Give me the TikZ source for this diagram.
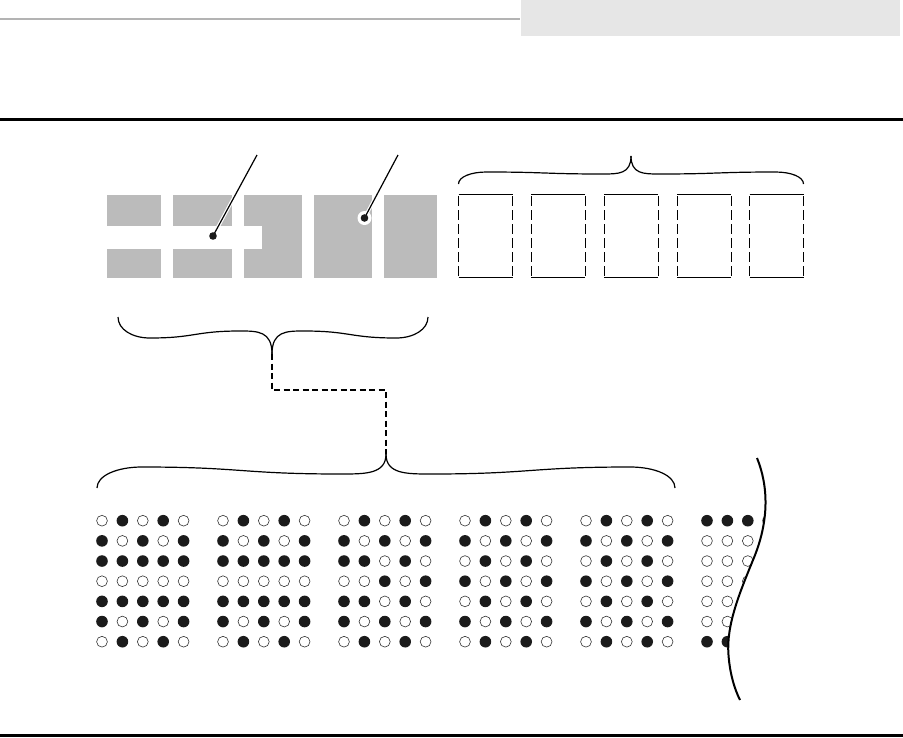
\documentclass[tikz,border=0pt]{standalone}
\usepackage{tikz}
\definecolor{gblock}{HTML}{BBBBBB}
\definecolor{ghead}{HTML}{E6E6E6}
\definecolor{gline}{HTML}{B3B3B3}
\definecolor{dotblack}{HTML}{1B1B1B}
\tikzset{
  blockstyle/.style={fill=gblock, draw=none},
  bracestyle/.style={line width=1.2pt, black},
  boxsolid/.style={line width=1.3pt, black},
  boxdash/.style={line width=0.9pt, black, dash pattern=on 9.5pt off 4.5pt},
  linkdash/.style={line width=1.4pt, black, dash pattern=on 6pt off 3.5pt},
  dotfull/.style={fill=dotblack},
  dotempty/.style={draw=black!80, line width=0.6pt, fill=white},
  pointer/.style={line width=1.2pt, black},
  halo/.style={line width=3.5pt, white},
}
% half brace: x0, xt, yend, ytip, ya (near end), yb (near tip), hook
\newcommand\halfbrc[7]{%
  \pgfmathsetmacro\hbL{#2-#1}%
  \pgfmathsetmacro\hbs{sign(\hbL)*#7}%
  \pgfmathsetmacro\hbBx{#1+\hbs}%
  \pgfmathsetmacro\hbCx{#2-\hbs}%
  \pgfmathsetmacro\hbM{(\hbBx+\hbCx)/2}%
  \pgfmathsetmacro\hbca{#1+0.45*\hbs}%
  \pgfmathsetmacro\hbcb{#2-0.45*\hbs}%
  \pgfmathsetmacro\hbya{#3+0.6*(#5-#3)}%
  \draw[bracestyle] (#1,#3) .. controls (#1,\hbya) and (\hbca,#5) .. (\hbBx,#5)
    .. controls (\hbM,#5) and (\hbM,#6) .. (\hbCx,#6)
    .. controls (\hbcb,#6) and (#2,#6) .. (#2,#4);%
}
\newcommand\dotgroup[2]{%
  \foreach \row [count=\r from 0] in {#2} {%
    \foreach \b [count=\c from 0] in \row {%
      \ifnum\b=1
        \fill[dotfull] (#1+\c*20.4, 520.7+\r*20.17) circle (5.8);
      \else
        \draw[dotempty] (#1+\c*20.4, 520.7+\r*20.17) circle (5.4);
      \fi
    }%
  }%
}
\begin{document}
\begin{tikzpicture}[x=1pt,y=-1pt]
\useasboundingbox (0,0) rectangle (903,737);
% header
\fill[ghead] (521,0) rectangle (900,36);
\draw[gline, line width=1.5pt] (0,19) -- (520,19);
\draw[black, line width=3pt] (0,119) -- (903,119);
\draw[black, line width=3pt] (0,735.5) -- (903,735.5);

% gray blocks
\fill[blockstyle] (107,195) rectangle (161,226);
\fill[blockstyle] (107,249) rectangle (161,278);
\fill[blockstyle] (173,195) rectangle (232,226);
\fill[blockstyle] (173,249) rectangle (232,278);
\fill[blockstyle] (244,195) rectangle (302,278);
\fill[white] (243,226) rectangle (262,249);
\fill[blockstyle] (314,195) rectangle (372,278);
\fill[blockstyle] (384,195) rectangle (437,278);

% pointers
\coordinate (pa) at (213,236);
\coordinate (pat) at (257,155);
\coordinate (pb) at (364.5,218);
\coordinate (pbt) at (398,155);
\draw[halo] (pa) -- (pat);
\draw[halo] (pb) -- (pbt);
\fill[white] (pb) circle (7);
\draw[pointer] (pa) -- (pat);
\draw[pointer] (pb) -- (pbt);
\fill[dotblack] (pa) circle (3.8);
\fill[dotblack] (pb) circle (3.8);

% dashed boxes
\foreach \x in {458.5,531,604,677,749.5} {
  \draw[boxsolid] (\x,194.5) -- (\x+54,194.5);
  \draw[boxsolid] (\x,277.5) -- (\x+54,277.5);
  \draw[boxdash] (\x,196) -- (\x,276.5);
  \draw[boxdash] (\x+54,196) -- (\x+54,276.5);
}

% braces
\coordinate (tipR) at (631,156);
\halfbrc{458.5}{631}{184}{156}{172}{174}{28}
\halfbrc{803.5}{631}{184}{156}{172}{174}{28}
\coordinate (tipA) at (272,354);
\halfbrc{118}{272}{317}{354}{338}{331}{32}
\halfbrc{428}{272}{317}{354}{338}{331}{32}
\coordinate (tipB) at (386,454);
\halfbrc{97}{386}{488}{454}{467}{474}{45}
\halfbrc{675}{386}{488}{454}{467}{474}{45}

% dashed link
\draw[linkdash] (tipA) -- ++(0,36) -| (tipB);

% dot matrices
\dotgroup{102}{{0,1,0,1,0},{1,0,1,0,1},{1,1,1,1,1},{0,0,0,0,0},{1,1,1,1,1},{1,0,1,0,1},{0,1,0,1,0}}
\dotgroup{223}{{0,1,0,1,0},{1,0,1,0,1},{1,1,1,1,1},{0,0,0,0,0},{1,1,1,1,1},{1,0,1,0,1},{0,1,0,1,0}}
\dotgroup{344}{{0,1,0,1,0},{1,0,1,0,1},{1,1,0,1,0},{0,0,1,0,1},{1,1,0,1,0},{1,0,1,0,1},{0,1,0,1,0}}
\dotgroup{465}{{0,1,0,1,0},{1,0,1,0,1},{0,1,0,1,0},{1,0,1,0,1},{0,1,0,1,0},{1,0,1,0,1},{0,1,0,1,0}}
\dotgroup{586}{{0,1,0,1,0},{1,0,1,0,1},{0,1,0,1,0},{1,0,1,0,1},{0,1,0,1,0},{1,0,1,0,1},{0,1,0,1,0}}
\dotgroup{707}{{1,1,1,1,1},{0,0,0,0,0},{0,0,0,0,0},{0,0,0,0,0},{0,0,0,0,0},{0,0,0,0,0},{1,1,1,1,1}}

% tear line
\fill[white] (757,458) .. controls (768,485) and (770,520) .. (753,560)
  .. controls (740,592) and (726,625) .. (728.5,655)
  .. controls (730,675) and (735,690) .. (740,700)
  -- (810,700) -- (810,458) -- cycle;
\draw[black, line width=2pt] (757,458) .. controls (768,485) and (770,520) .. (753,560)
  .. controls (740,592) and (726,625) .. (728.5,655)
  .. controls (730,675) and (735,690) .. (740,700);
\end{tikzpicture}
\end{document}
